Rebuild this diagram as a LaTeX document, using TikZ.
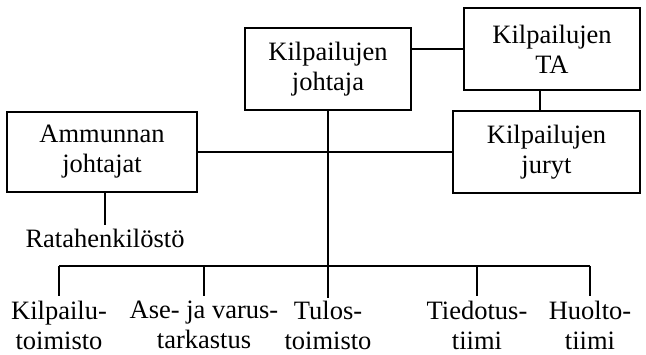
\documentclass[tikz,border=0pt]{standalone}
\usepackage{fontspec}
\setmainfont{Liberation Serif}
\usetikzlibrary{positioning}
\tikzset{
  box/.style={draw, line width=1.2pt, align=center, inner sep=0pt,
    font=\fontsize{26.5}{30}\selectfont},
  lbl/.style={align=center, inner sep=0pt, font=\fontsize{26.5}{30}\selectfont}
}

\begin{document}
\begin{tikzpicture}[x=1pt,y=-1pt,line width=1.2pt]
    \useasboundingbox (0,0) rectangle (646,355);

    % boxes
    \node[box, minimum width=166pt, minimum height=82pt] (johtaja) at (328,69) {Kilpailujen\\johtaja};
    \node[box, minimum width=176pt, minimum height=82pt] (ta) at (552,49) {Kilpailujen\\TA};
    \node[box, minimum width=187pt, minimum height=82pt] (jury) at (546.5,152) {Kilpailujen\\juryt};
    \node[box, minimum width=190pt, minimum height=80pt] (ammunta) at (102,152) {Ammunnan\\johtajat};
    \node[lbl] (rata) at (105,238) {Ratahenkilöstö};

    % alimmat ryhmät
    \node[lbl] (kilp) at (59,325) {Kilpailu-\\toimisto};
    \node[lbl] (ase) at (204,325) {Ase- ja varus-\\tarkastus};
    \node[lbl] (tulos) at (328,325) {Tulos-\\toimisto};
    \node[lbl] (tied) at (477,325) {Tiedotus-\\tiimi};
    \node[lbl] (huolto) at (590,325) {Huolto-\\tiimi};
    \coordinate (bus) at (0,266);

    \draw (ta.west -| johtaja.east) -- (ta.west);
    \draw ([xshift=-12pt]ta.south) -- ([xshift=-12pt]ta.south |- jury.north);
    \draw (ammunta.east) -- (jury.west);
    \draw (rata.north |- ammunta.south) -- ([yshift=3pt]rata.north);
    \draw (johtaja.south) -- ([yshift=2pt]tulos.north);
    \draw (kilp.north |- bus) -- (huolto.north |- bus);
    \foreach \n in {kilp,ase,tied,huolto}
        \draw (\n.north |- bus) -- ([yshift=4pt]\n.north);
\end{tikzpicture}
\end{document}
